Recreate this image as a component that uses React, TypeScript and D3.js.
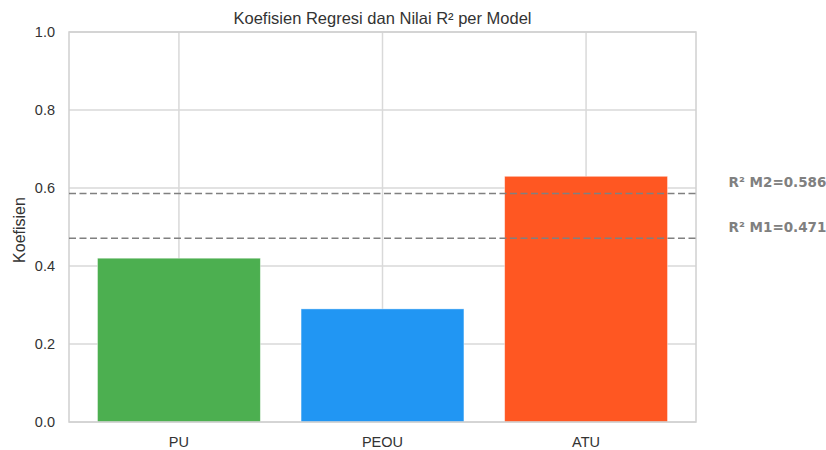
import * as d3 from 'd3';

const categories = ['PU', 'PEOU', 'ATU'];
const coefficients = [0.42, 0.29, 0.63];
const barColors = ['#4CAF50', '#2196F3', '#FF5722'];
const r2Names = ['R² M1', 'R² M2'];
const r2Values = [0.471, 0.586];
const yTicks = [0, 0.2, 0.4, 0.6, 0.8, 1.0];

const width = 826;
const height = 450;
const margins = { top: 32, right: 130, bottom: 28, left: 69 };

const App = () => {
  const xScale = d3
    .scaleLinear()
    .domain([-0.54, categories.length - 1 + 0.54])
    .range([margins.left, width - margins.right]);
  const yScale = d3
    .scaleLinear()
    .domain([0, 1])
    .range([height - margins.bottom, margins.top]);

  const barWidth = xScale(0.8) - xScale(0);
  const plotLeft = margins.left;
  const plotRight = width - margins.right;
  const plotTop = margins.top;
  const plotBottom = height - margins.bottom;
  const font = '"Liberation Sans", Arial, sans-serif';
  const textColor = '#333';

  return (
    <svg
      width={width}
      height={height}
      viewBox={`0 0 ${width} ${height}`}
      style={{ position: 'absolute', left: 0, top: 0, background: '#fff' }}
    >
      <rect x={0} y={0} width={width} height={height} fill="#fff" />
      {/* grid */}
      {yTicks.map(t => (
        <line
          key={`gy${t}`}
          x1={plotLeft}
          x2={plotRight}
          y1={yScale(t)}
          y2={yScale(t)}
          stroke="#d9d9d9"
          strokeWidth={1.5}
        />
      ))}
      {categories.map((c, i) => (
        <line
          key={`gx${c}`}
          x1={xScale(i)}
          x2={xScale(i)}
          y1={plotTop}
          y2={plotBottom}
          stroke="#d9d9d9"
          strokeWidth={1.5}
        />
      ))}
      {/* bars */}
      {categories.map((c, i) => (
        <rect
          key={c}
          x={xScale(i) - barWidth / 2}
          y={yScale(coefficients[i])}
          width={barWidth}
          height={yScale(0) - yScale(coefficients[i])}
          fill={barColors[i]}
          stroke="#fff"
          strokeOpacity={0.5}
          strokeWidth={0.8}
        />
      ))}
      {/* spines */}
      <rect
        x={plotLeft}
        y={plotTop}
        width={plotRight - plotLeft}
        height={plotBottom - plotTop}
        fill="none"
        stroke="#d0d0d0"
        strokeWidth={1.5}
      />
      {/* R² reference lines */}
      {r2Values.map((v, i) => (
        <g key={r2Names[i]}>
          <line
            x1={plotLeft}
            x2={plotRight}
            y1={yScale(v)}
            y2={yScale(v)}
            stroke="#808080"
            strokeWidth={1.6}
            strokeDasharray="7,3.5"
          />
          <text
            x={xScale(2.7)}
            y={yScale(v + 0.03)}
            dominantBaseline="central"
            fontFamily='"DejaVu Sans", sans-serif'
            fontWeight="bold"
            fontSize={13.5}
            fill="#808080"
          >
            {`${r2Names[i]}=${v.toFixed(3)}`}
          </text>
        </g>
      ))}
      {/* y ticks */}
      {yTicks.map(t => (
        <text
          key={`ty${t}`}
          x={plotLeft - 14}
          y={yScale(t)}
          textAnchor="end"
          dominantBaseline="central"
          fontFamily={font}
          fontSize={14.5}
          fill={textColor}
        >
          {t.toFixed(1)}
        </text>
      ))}
      {/* x ticks */}
      {categories.map((c, i) => (
        <text
          key={`tx${c}`}
          x={xScale(i)}
          y={447}
          textAnchor="middle"
          fontFamily={font}
          fontSize={14.5}
          fill={textColor}
        >
          {c}
        </text>
      ))}
      <text
        x={19}
        y={(plotTop + plotBottom) / 2 + 3}
        transform={`rotate(-90, 19, ${(plotTop + plotBottom) / 2 + 3})`}
        textAnchor="middle"
        dominantBaseline="central"
        fontFamily={font}
        fontSize={16}
        fill={textColor}
      >
        Koefisien
      </text>
      <text
        x={(plotLeft + plotRight) / 2}
        y={24}
        textAnchor="middle"
        fontFamily={font}
        fontSize={16.5}
        fill={textColor}
      >
        Koefisien Regresi dan Nilai R² per Model
      </text>
    </svg>
  );
};

export default App;
